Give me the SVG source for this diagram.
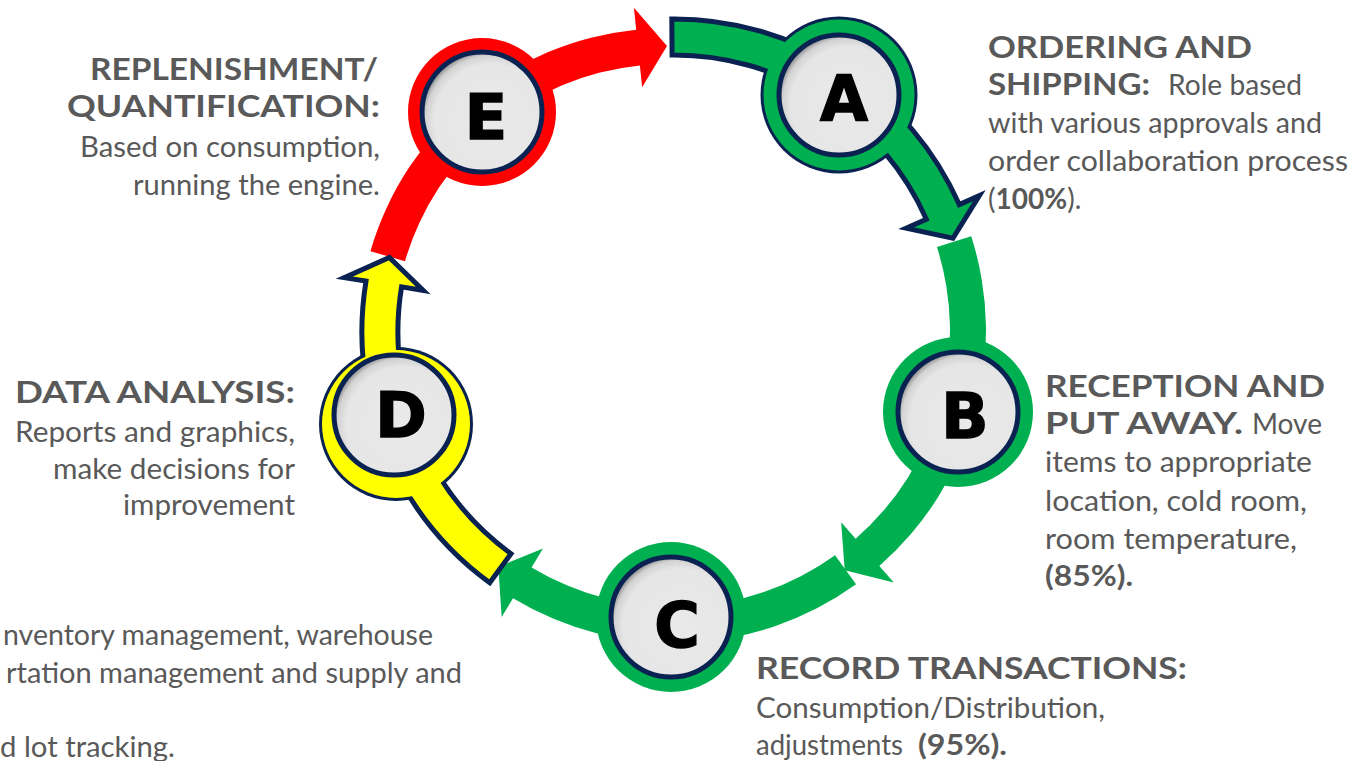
<svg xmlns="http://www.w3.org/2000/svg" width="1358" height="761" viewBox="0 0 1358 761">
<defs>
<style>
.t{font-family:Lato,"Open Sans","Liberation Sans",sans-serif;fill:#595959;font-size:28px}
.h{font-weight:700;font-size:31px}
.b{font-weight:700}
.lt{font-family:"DejaVu Sans","Liberation Sans",sans-serif;font-weight:700;font-size:62px;fill:#000;stroke:#000;stroke-width:1.5;text-anchor:middle}
.nv{fill:#0a2251}
.ol{stroke:#0a2251;stroke-width:5;stroke-linejoin:miter}
.disc{fill:url(#gs);stroke:#0a2251;stroke-width:5}
.grn{fill:#00b050}
.red{fill:#ff0000}
.yel{fill:#ffff00}
</style>
<radialGradient id="gs" cx="0.58" cy="0.58" r="0.6">
<stop offset="0" stop-color="#e9e9e9"/>
<stop offset="0.8" stop-color="#e6e6e6"/>
<stop offset="0.92" stop-color="#d2d2d2"/>
<stop offset="1" stop-color="#8c8c8c"/>
</radialGradient>
</defs>
<rect width="1358" height="761" fill="#fff"/>

<g id="ring-outlines">
<circle class="nv" cx="839" cy="95" r="78.5"/>
<circle class="nv" cx="396" cy="424" r="77"/>
</g>

<g id="connectors">
<path id="arrow-E-A" class="red" d="M370.41,251.15 A310,310 0 0 1 636.19,29.64 L633.93,7.75 L666.98,46.0 L642.14,87.33 L639.88,65.45 A274,274 0 0 0 404.97,261.23 Z"/>
<path id="arrow-A-B" class="grn ol" d="M671.82,19.01 A312,312 0 0 1 959.25,204.60 L979.36,195.68 L952.97,238.20 L906.22,228.09 L926.33,219.18 A276,276 0 0 0 672.07,55.01 Z"/>
<path id="arrow-B-C" class="grn" d="M971.23,236.14 A312,312 0 0 1 879.31,565.93 L893.79,582.50 L844.73,570.35 L841.14,522.26 L855.62,538.83 A276,276 0 0 0 936.93,247.09 Z"/>
<path id="arrow-C-D" class="grn" d="M856.06,584.37 A312,312 0 0 1 513.03,598.27 L501.68,617.11 L498.30,566.72 L542.95,548.58 L531.60,567.43 A276,276 0 0 0 835.06,555.13 Z"/>
<path id="arrow-D-E" class="yel ol" d="M489.73,582.77 A312,312 0 0 1 366.01,281.12 L344.30,277.60 L389.36,257.39 L423.27,290.39 L401.55,286.87 A276,276 0 0 0 510.99,553.72 Z"/>
</g>

<g id="node-A">
<circle class="grn" cx="839" cy="95" r="75.5"/>
<circle class="disc" cx="839" cy="95" r="60"/>
<text class="lt" x="844" y="120">A</text>
</g>
<g id="node-B">
<circle class="grn" cx="958" cy="412" r="75"/>
<circle class="disc" cx="958" cy="412" r="60"/>
<text class="lt" x="965" y="438">B</text>
</g>
<g id="node-C">
<circle class="grn" cx="671" cy="617" r="75"/>
<circle class="disc" cx="671" cy="617" r="60"/>
<text class="lt" x="677" y="647">C</text>
</g>
<g id="node-D">
<circle class="yel" cx="396" cy="424" r="74"/>
<circle class="disc" cx="394" cy="415" r="60"/>
<text class="lt" x="401" y="437">D</text>
</g>
<g id="node-E">
<circle class="red" cx="482" cy="112" r="74"/>
<circle class="disc" cx="482" cy="112" r="60"/>
<text class="lt" x="486" y="139">E</text>
</g>

<g id="label-A">
<text class="t h" x="988" y="58" textLength="264" lengthAdjust="spacingAndGlyphs">ORDERING AND</text>
<text class="t h" x="988" y="95" textLength="162" lengthAdjust="spacingAndGlyphs">SHIPPING:</text>
<text class="t" x="1168" y="95" textLength="134" lengthAdjust="spacingAndGlyphs">Role based</text>
<text class="t" x="988" y="133" textLength="334" lengthAdjust="spacingAndGlyphs">with various approvals and</text>
<text class="t" x="988" y="171" textLength="360" lengthAdjust="spacingAndGlyphs">order collaboration process</text>
<text class="t" x="988" y="209">(<tspan class="b">100%</tspan>).</text>
</g>
<g id="label-B">
<text class="t h" x="1045" y="397" textLength="280" lengthAdjust="spacingAndGlyphs">RECEPTION AND</text>
<text class="t h" x="1045" y="434" textLength="198" lengthAdjust="spacingAndGlyphs">PUT AWAY.</text>
<text class="t" x="1252" y="434" textLength="70" lengthAdjust="spacingAndGlyphs">Move</text>
<text class="t" x="1045" y="472" textLength="267" lengthAdjust="spacingAndGlyphs">items to appropriate</text>
<text class="t" x="1045" y="511" textLength="262" lengthAdjust="spacingAndGlyphs">location, cold room,</text>
<text class="t" x="1045" y="549" textLength="252" lengthAdjust="spacingAndGlyphs">room temperature,</text>
<text class="t b" x="1045" y="586" textLength="88" lengthAdjust="spacingAndGlyphs">(85%).</text>
</g>
<g id="label-C">
<text class="t h" x="756" y="679" textLength="431" lengthAdjust="spacingAndGlyphs">RECORD TRANSACTIONS:</text>
<text class="t" x="756" y="718" textLength="349" lengthAdjust="spacingAndGlyphs">Consumption/Distribution,</text>
<text class="t" x="756" y="755" textLength="147" lengthAdjust="spacingAndGlyphs">adjustments</text>
<text class="t b" x="918" y="755" textLength="89" lengthAdjust="spacingAndGlyphs">(95%).</text>
</g>
<g id="label-D">
<text class="t h" x="15" y="403" textLength="280" lengthAdjust="spacingAndGlyphs">DATA ANALYSIS:</text>
<text class="t" x="15" y="442" textLength="280" lengthAdjust="spacingAndGlyphs">Reports and graphics,</text>
<text class="t" x="53" y="479" textLength="242" lengthAdjust="spacingAndGlyphs">make decisions for</text>
<text class="t" x="123" y="515" textLength="172" lengthAdjust="spacingAndGlyphs">improvement</text>
</g>
<g id="label-E">
<text class="t h" x="90" y="80" textLength="288" lengthAdjust="spacingAndGlyphs">REPLENISHMENT/</text>
<text class="t h" x="67" y="117" textLength="313" lengthAdjust="spacingAndGlyphs">QUANTIFICATION:</text>
<text class="t" x="80" y="157" textLength="300" lengthAdjust="spacingAndGlyphs">Based on consumption,</text>
<text class="t" x="133" y="195" textLength="247" lengthAdjust="spacingAndGlyphs">running the engine.</text>
</g>
<g id="label-bottom-left">
<text class="t" x="3" y="645" textLength="430" lengthAdjust="spacingAndGlyphs">nventory management, warehouse</text>
<text class="t" x="6" y="683" textLength="456" lengthAdjust="spacingAndGlyphs">rtation management and supply and</text>
<text class="t" x="0" y="757" textLength="175" lengthAdjust="spacingAndGlyphs">d lot tracking.</text>
</g>
</svg>
